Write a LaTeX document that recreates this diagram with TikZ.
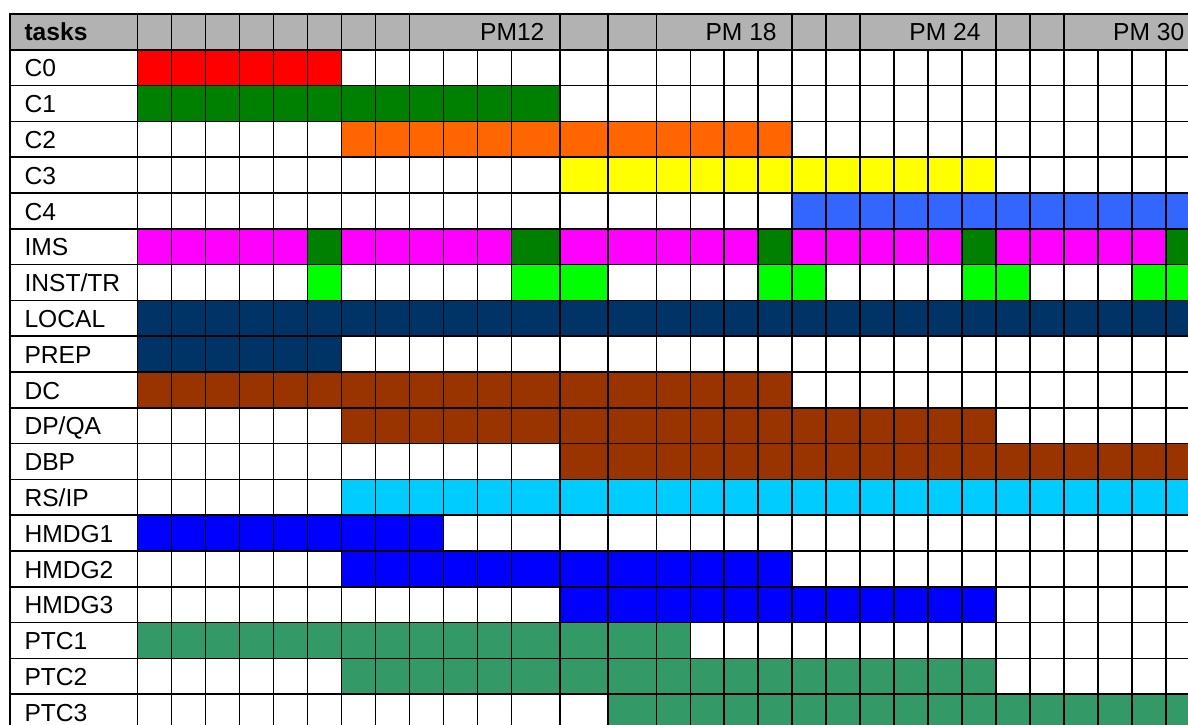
\documentclass[tikz,border=0pt]{standalone}
\usepackage{fontspec}
\setmainfont{Liberation Sans}
\definecolor{headgray}{HTML}{B2B2B2}
\definecolor{barred}{HTML}{FF0000}
\definecolor{bargreen}{HTML}{008000}
\definecolor{barorange}{HTML}{FF6600}
\definecolor{baryellow}{HTML}{FFFF00}
\definecolor{barsky}{HTML}{3366FF}
\definecolor{barpink}{HTML}{FF00FF}
\definecolor{barlime}{HTML}{00FF00}
\definecolor{barnavy}{HTML}{003366}
\definecolor{barbrown}{HTML}{993300}
\definecolor{barcyan}{HTML}{00CCFF}
\definecolor{barblue}{HTML}{0000FF}
\definecolor{barsea}{HTML}{339966}
\tikzset{
  tasklabel/.style={anchor=base west, inner sep=0pt, font=\fontsize{21}{25}\selectfont},
  headlabel/.style={tasklabel, font=\fontsize{21}{25}\selectfont\bfseries},
  pmlabel/.style={tasklabel, anchor=base east},
  gridline/.style={line width=1.3pt, black, line cap=rect},
}

\begin{document}
\begin{tikzpicture}[x=0.03cm, y=-0.03cm,
    declare function={colx(\i)=(\i<12)*(137.7+34*(\i-1))+and(\i>=12,\i<=15)*(511.7+48.2*(\i-12))+(\i>15)*(656.3+33.97*(\i-15));
                      rowy(\r)=14+35.8*\r;}]
    \useasboundingbox (0,0) rectangle (1188,724);
    \clip (0,0) rectangle (1188,724);
    \fill[white] (0,0) rectangle (1188,724);
    \fill[headgray] (10,{rowy(0)}) rectangle ({colx(31)},{rowy(1)});
    % row/first month/last month/colour
    \foreach \r/\a/\b/\c in {1/1/6/barred, 2/1/12/bargreen, 3/7/18/barorange, 4/13/24/baryellow,
        5/19/30/barsky, 6/1/30/barpink, 6/6/6/bargreen, 6/12/12/bargreen, 6/18/18/bargreen,
        6/24/24/bargreen, 6/30/30/bargreen, 7/6/6/barlime, 7/12/13/barlime, 7/18/19/barlime,
        7/24/25/barlime, 7/29/30/barlime, 8/1/30/barnavy, 9/1/6/barnavy, 10/1/18/barbrown,
        11/7/24/barbrown, 12/13/30/barbrown, 13/7/30/barcyan, 14/1/9/barblue, 15/7/18/barblue,
        16/13/24/barblue, 17/1/15/barsea, 18/7/24/barsea, 19/14/30/barsea}
      \fill[\c] ({colx(\a)},{rowy(\r)}) rectangle ({colx(\b+1)},{rowy(\r+1)});
    % grid
    \foreach \r in {0,...,20}
      \draw[gridline] (10,{rowy(\r)}) -- ({colx(31)},{rowy(\r)});
    \draw[gridline] (10,{rowy(0)}) -- (10,{rowy(20)});
    \foreach \i in {1,...,31}
      \draw[gridline] ({colx(\i)},{rowy(1)}) -- ({colx(\i)},{rowy(20)});
    \foreach \i in {1,2,3,4,5,6,7,8,9,13,14,15,19,20,21,25,26,27}
      \draw[gridline] ({colx(\i)},{rowy(0)}) -- ({colx(\i)},{rowy(1)});
    % labels
    \node[headlabel] (tasks) at (24.3,{rowy(0)+26.7}) {tasks};
    \foreach \r/\t in {1/C0, 2/C1, 3/C2, 4/C3, 5/C4, 6/IMS, 7/{INST/TR}, 8/LOCAL, 9/PREP,
        10/DC, 11/{DP/QA}, 12/DBP, 13/{RS/IP}, 14/HMDG1, 15/HMDG2, 16/HMDG3, 17/PTC1,
        18/PTC2, 19/PTC3}
      \node[tasklabel] (task\r) at (24.3,{rowy(\r)+27.0}) {\t};
    \node[pmlabel] (pm12) at ({colx(13)-15.3},{rowy(0)+26.7}) {PM12};
    \node[pmlabel] (pm18) at ({colx(19)-15.3},{rowy(0)+26.7}) {PM 18};
    \node[pmlabel] (pm24) at ({colx(25)-15.3},{rowy(0)+26.7}) {PM 24};
    \node[pmlabel] (pm30) at ({colx(31)-15.3},{rowy(0)+26.7}) {PM 30};
\end{tikzpicture}
\end{document}
